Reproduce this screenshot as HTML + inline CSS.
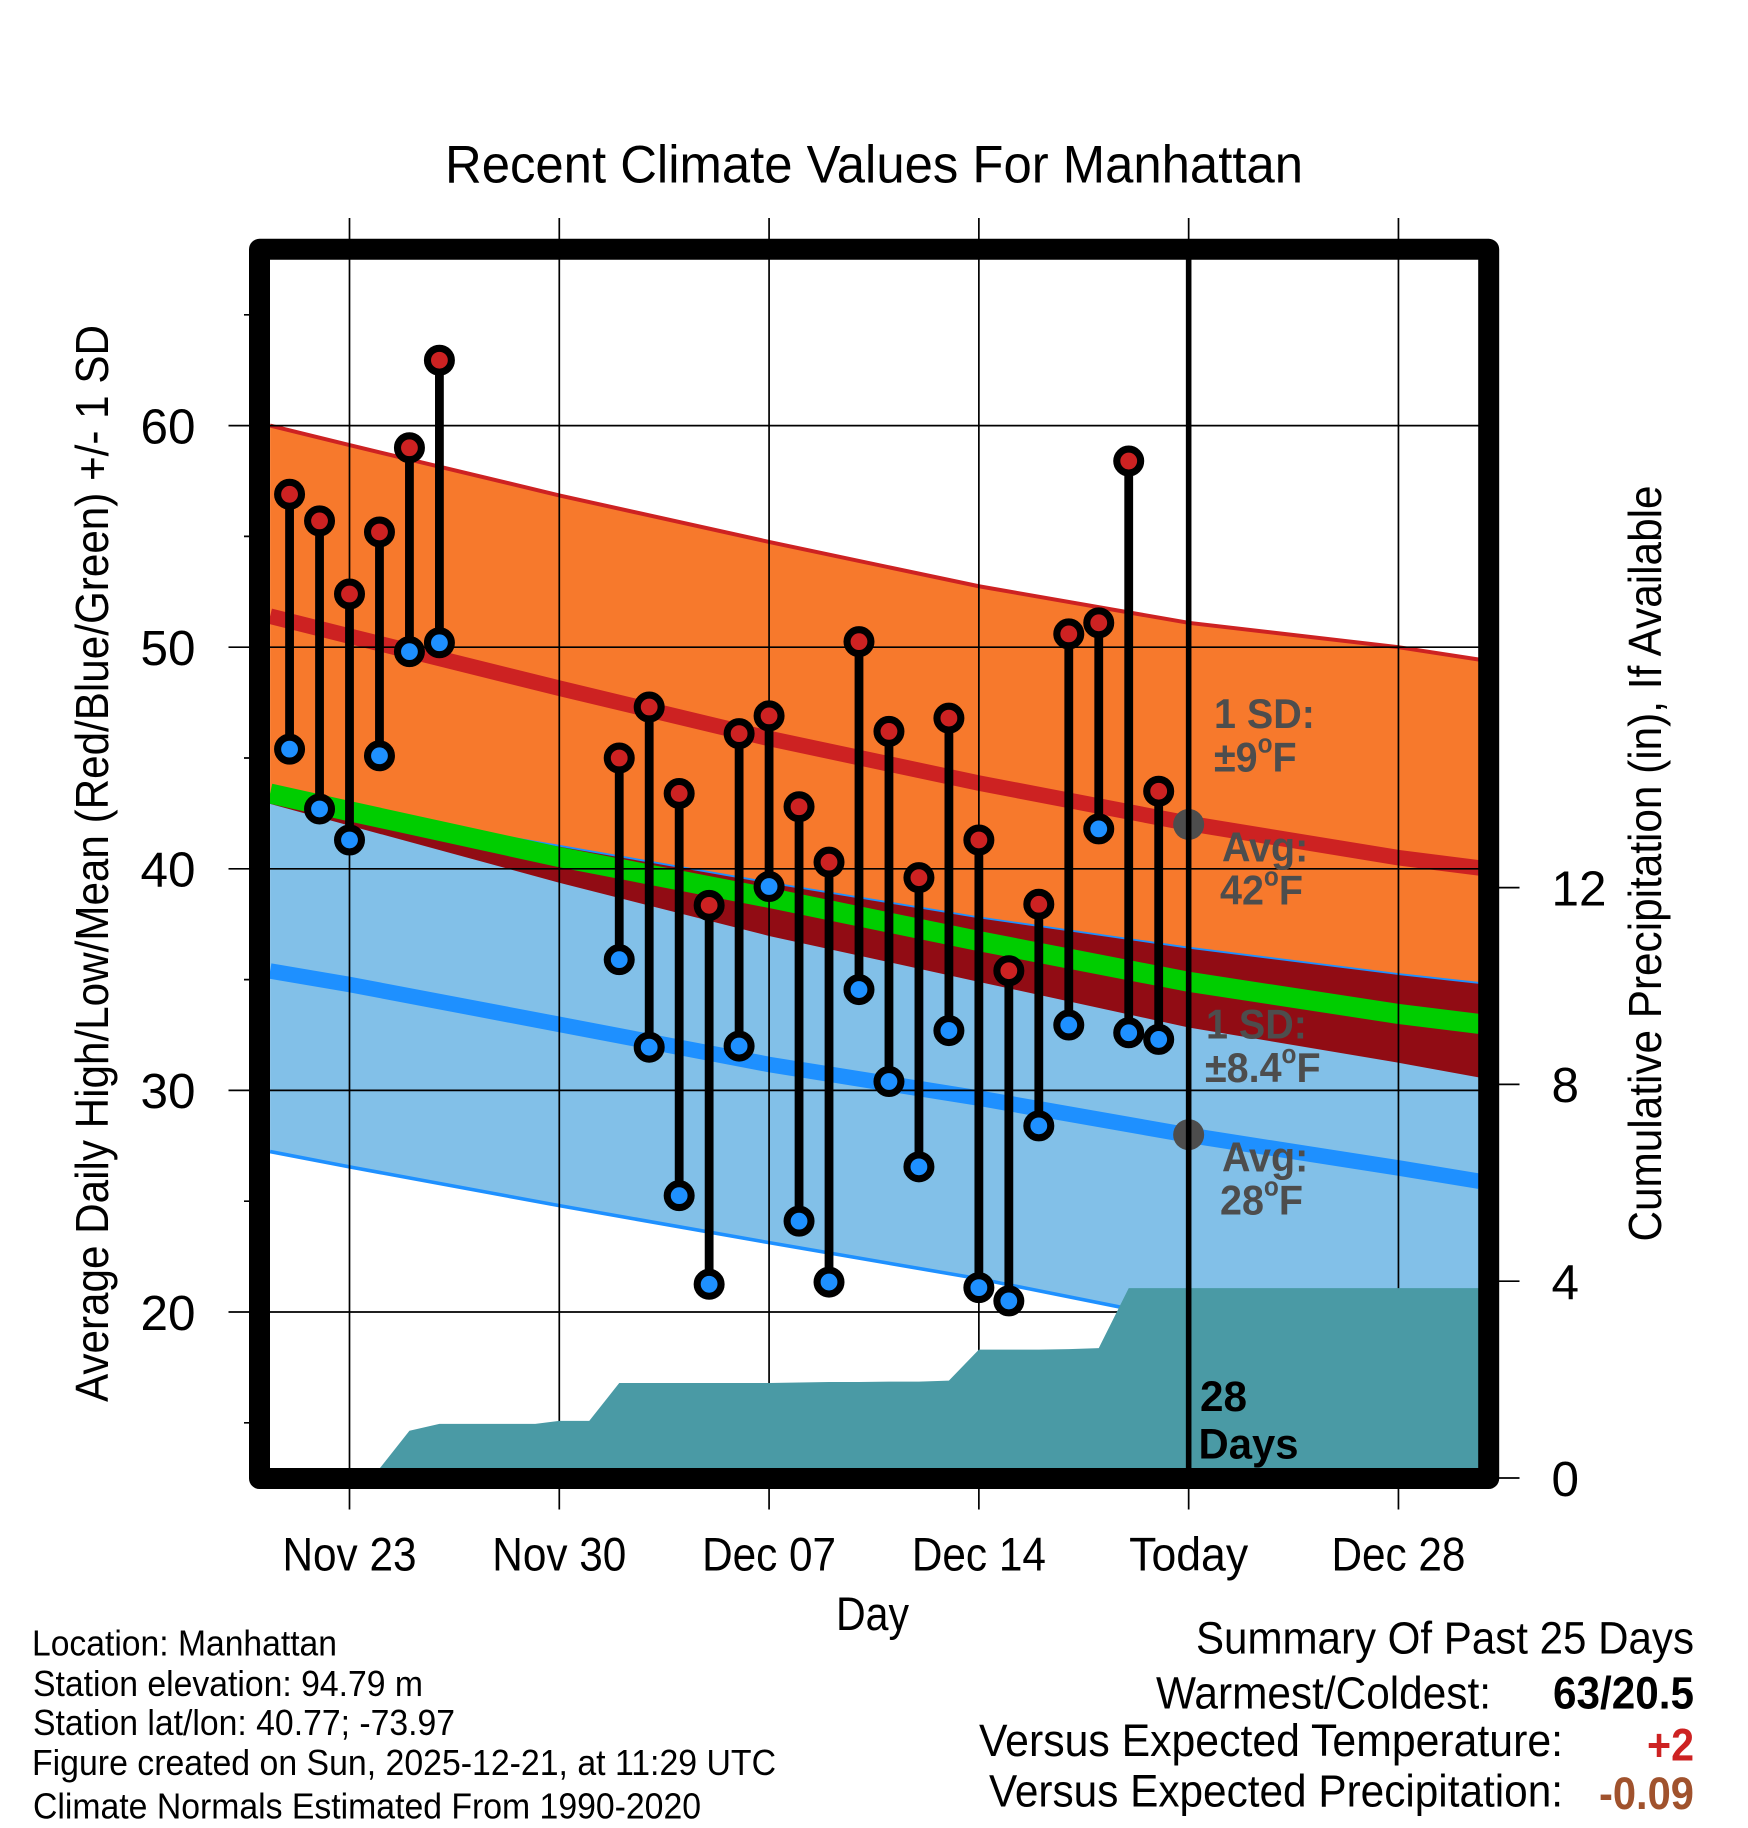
<!DOCTYPE html>
<html lang="en">
<head>
<meta charset="utf-8">
<title>Recent Climate Values For Manhattan</title>
<style>
html,body{margin:0;padding:0;background:#fff;}
svg{display:block;font-family:"Liberation Sans",Arial,sans-serif;}
.ann{font-weight:bold;font-size:42px;fill:#4d4d4d;}
.info{font-size:36px;fill:#000;}
.sum{font-size:45.5px;fill:#000;}
</style>
</head>
<body>
<svg id="chart" xmlns="http://www.w3.org/2000/svg" width="1748" height="1828" viewBox="0 0 1748 1828">
<rect x="0" y="0" width="1748" height="1828" fill="#ffffff"/>
<g id="plot"></g>
<rect x="259.5" y="249.3" width="1229.2" height="1229.2" fill="none" stroke="#000" stroke-width="21" stroke-linejoin="round"/>
<g id="axes"></g>

<text x="445" y="182.3" font-size="53" textLength="858" lengthAdjust="spacingAndGlyphs">Recent Climate Values For Manhattan</text>
<text transform="translate(107.8,1402) rotate(-90)" font-size="46" textLength="1077" lengthAdjust="spacingAndGlyphs">Average Daily High/Low/Mean (Red/Blue/Green) +/- 1 SD</text>
<text transform="translate(1661,1241.5) rotate(-90)" font-size="46" textLength="756" lengthAdjust="spacingAndGlyphs">Cumulative Precipitation (in), If Available</text>
<text x="836" y="1630" font-size="47" textLength="73" lengthAdjust="spacingAndGlyphs">Day</text>

<g>
<text class="ann" transform="translate(1214,728.2) scale(0.94,1)">1 SD:</text>
<text class="ann" transform="translate(1214,771.7) scale(0.94,1)">±9<tspan font-size="26" dy="-19">o</tspan><tspan dy="19">F</tspan></text>
<text class="ann" transform="translate(1222,861.7) scale(0.94,1)">Avg:</text>
<text class="ann" transform="translate(1220,904.7) scale(0.94,1)">42<tspan font-size="26" dy="-19">o</tspan><tspan dy="19">F</tspan></text>
</g>
<g>
<text class="ann" transform="translate(1206,1038.7) scale(0.94,1)">1 SD:</text>
<text class="ann" transform="translate(1205,1082.2) scale(0.94,1)">±8.4<tspan font-size="26" dy="-19">o</tspan><tspan dy="19">F</tspan></text>
<text class="ann" transform="translate(1222,1171.7) scale(0.94,1)">Avg:</text>
<text class="ann" transform="translate(1220,1214.7) scale(0.94,1)">28<tspan font-size="26" dy="-19">o</tspan><tspan dy="19">F</tspan></text>
</g>
<text font-weight="bold" font-size="43" x="1200" y="1411.2" textLength="47" lengthAdjust="spacingAndGlyphs">28</text>
<text font-weight="bold" font-size="43" x="1198.5" y="1458.7" textLength="100" lengthAdjust="spacingAndGlyphs">Days</text>

<g>
<text class="info" x="32" y="1655.3" textLength="305" lengthAdjust="spacingAndGlyphs">Location: Manhattan</text>
<text class="info" x="33" y="1695.8" textLength="390" lengthAdjust="spacingAndGlyphs">Station elevation: 94.79 m</text>
<text class="info" x="33" y="1734.8" textLength="422" lengthAdjust="spacingAndGlyphs">Station lat/lon: 40.77; -73.97</text>
<text class="info" x="32" y="1774.8" textLength="744" lengthAdjust="spacingAndGlyphs">Figure created on Sun, 2025-12-21, at 11:29 UTC</text>
<text class="info" x="33" y="1818.3" textLength="668" lengthAdjust="spacingAndGlyphs">Climate Normals Estimated From 1990-2020</text>
</g>

<g>
<text class="sum" x="1196" y="1653.3" textLength="498" lengthAdjust="spacingAndGlyphs">Summary Of Past 25 Days</text>
<text class="sum" x="1156" y="1708.7" textLength="335" lengthAdjust="spacingAndGlyphs">Warmest/Coldest:</text>
<text class="sum" font-weight="bold" x="1553" y="1708.7" textLength="141" lengthAdjust="spacingAndGlyphs">63/20.5</text>
<text class="sum" x="979" y="1756.2" textLength="584" lengthAdjust="spacingAndGlyphs">Versus Expected Temperature:</text>
<text class="sum" font-weight="bold" x="1647" y="1760.7" textLength="47" lengthAdjust="spacingAndGlyphs" style="fill:#cd2222">+2</text>
<text class="sum" x="989" y="1806.7" textLength="574" lengthAdjust="spacingAndGlyphs">Versus Expected Precipitation:</text>
<text class="sum" font-weight="bold" x="1599" y="1809.2" textLength="95" lengthAdjust="spacingAndGlyphs" style="fill:#a0522d">-0.09</text>
</g>
</svg>

<script>
// ---- Data (day numbers are days since Nov 23) ----
const xTickDays = [0, 7, 14, 21, 28, 35];
const xTickLabels = ['Nov 23', 'Nov 30', 'Dec 07', 'Dec 14', 'Today', 'Dec 28'];
const yMajorTicks = [20, 30, 40, 50, 60];
const yMinorTicks = [15, 25, 35, 45, 55, 65];
const precipTicks = [0, 4, 8, 12];
const todayDay = 28;
const todayMarkers = [42, 28];

const normalDays = [-2.65, 0, 7, 14, 21, 28, 35, 37.7];
const highPlusSd = [60, 59.12, 56.85, 54.75, 52.75, 51.1, 50.0, 49.44];
const highAvg = [51.4, 50.5, 48.15, 45.88, 43.87, 42.05, 40.5, 40.04];
const highMinusSd = [42.93, 41.95, 39.37, 36.97, 34.9, 32.84, 31.25, 30.58];
const meanAvg = [43.4, 42.6, 40.53, 38.69, 36.74, 34.9, 33.45, 33.0];
const lowPlusSd = [43.2, 42.65, 41.04, 39.38, 37.81, 36.44, 35.25, 34.85];
const lowAvg = [35.39, 34.78, 32.98, 31.17, 29.65, 27.98, 26.5, 25.9];
const lowMinusSd = [27.24, 26.55, 24.8, 23.13, 21.5, 19.6, 18.1, 17.5];

const precipDays = [-2.65, 0, 1, 2, 3, 4, 5, 6, 6.2, 7, 8, 9, 10, 11, 12, 13, 14, 15, 16, 17, 18, 19, 20, 21, 22, 23, 24, 25, 26, 37.7];
const precipTotals = [0, 0, 0.19, 0.96, 1.1, 1.1, 1.1, 1.1, 1.1, 1.16, 1.16, 1.93, 1.93, 1.93, 1.93, 1.93, 1.93, 1.94, 1.95, 1.95, 1.96, 1.96, 1.98, 2.61, 2.61, 2.61, 2.62, 2.64, 3.86, 3.86];

const obsDays = [-2, -1, 0, 1, 2, 3, 9, 10, 11, 12, 13, 14, 15, 16, 17, 18, 19, 20, 21, 22, 23, 24, 25, 26, 27];
const obsHigh = [56.9, 55.7, 52.4, 55.2, 59.0, 62.95, 45.0, 47.3, 43.4, 38.35, 46.1, 46.9, 42.8, 40.3, 50.25, 46.2, 39.6, 46.8, 41.3, 35.4, 38.4, 50.6, 51.1, 58.4, 43.5];
const obsLow = [45.4, 42.7, 41.3, 45.1, 49.8, 50.2, 35.9, 31.95, 25.25, 21.25, 32.0, 39.2, 24.1, 21.35, 34.55, 30.4, 26.55, 32.7, 21.1, 20.5, 28.4, 32.95, 41.8, 32.6, 32.3];

// ---- Axis functions ----
function xScale(day) { return 349.5 + day * 29.97; }
function yTemp(t) { return 425.6 + (60 - t) * 22.16; }
function yPrecip(p) { return 1478 - p * 49.2; }

const SVGNS = 'http://www.w3.org/2000/svg';
const plot = document.getElementById('plot');
const axes = document.getElementById('axes');
function mk(tag, parent, attrs) {
  const el = document.createElementNS(SVGNS, tag);
  for (const k in attrs) el.setAttribute(k, attrs[k]);
  parent.appendChild(el);
  return el;
}
function linePts(days, vals, yf) {
  return days.map(function (d, i) { return xScale(d).toFixed(2) + ',' + yf(vals[i]).toFixed(2); }).join(' ');
}
function bandPts(days, top, bottom) {
  const a = days.map(function (d, i) { return xScale(d).toFixed(2) + ',' + yTemp(top[i]).toFixed(2); });
  const b = days.map(function (d, i) { return xScale(d).toFixed(2) + ',' + yTemp(bottom[i]).toFixed(2); }).reverse();
  return a.concat(b).join(' ');
}

// ---- Clip paths ----
const defs = mk('defs', plot, {});
const innerClip = mk('clipPath', defs, { id: 'inner-clip' });
mk('rect', innerClip, { x: 262, y: 252, width: 1225, height: 1224 });
const orangeClip = mk('clipPath', defs, { id: 'orange-clip' });
mk('polygon', orangeClip, { points: bandPts(normalDays, highPlusSd, highMinusSd) });

const inner = mk('g', plot, { 'clip-path': 'url(#inner-clip)' });



// ---- Bands ----
const orangeBand = mk('polygon', inner, { points: bandPts(normalDays, highPlusSd, highMinusSd), fill: '#f7792c' });



const blueBand = mk('polygon', inner, { points: bandPts(normalDays, lowPlusSd, lowMinusSd), fill: '#82c0e8' });



const overlapBand = mk('polygon', inner, { points: bandPts(normalDays, lowPlusSd, lowMinusSd), fill: '#910c14', 'clip-path': 'url(#orange-clip)' });



// ---- Lines ----
const highTopLine = mk('polyline', inner, { points: linePts(normalDays, highPlusSd, yTemp), fill: 'none', stroke: '#cd2222', 'stroke-width': 4 });



const lowTopLine = mk('polyline', inner, { points: linePts(normalDays, lowPlusSd, yTemp), fill: 'none', stroke: '#1e90ff', 'stroke-width': 1.8 });



const lowBottomLine = mk('polyline', inner, { points: linePts(normalDays, lowMinusSd, yTemp), fill: 'none', stroke: '#1e90ff', 'stroke-width': 3.6 });



const highAvgLine = mk('polyline', inner, { points: linePts(normalDays, highAvg, yTemp), fill: 'none', stroke: '#cd2222', 'stroke-width': 15.5 });



const lowAvgLine = mk('polyline', inner, { points: linePts(normalDays, lowAvg, yTemp), fill: 'none', stroke: '#1e90ff', 'stroke-width': 15.5 });



const meanLine = mk('polyline', inner, { points: linePts(normalDays, meanAvg, yTemp), fill: 'none', stroke: '#00cd00', 'stroke-width': 20 });



// ---- Grid and ticks ----
yMajorTicks.forEach(function (t) {
  const g = mk('line', plot, { x1: 228.5, x2: 1479, y1: yTemp(t), y2: yTemp(t), stroke: '#000', 'stroke-width': 1.7 });
  
  
  const lbl = mk('text', axes, { x: 140.5, y: yTemp(t) + 17.8, 'font-size': 49, textLength: 55, lengthAdjust: 'spacingAndGlyphs' });
  lbl.textContent = String(t);
  
  
});
yMinorTicks.forEach(function (t) {
  const g = mk('line', plot, { x1: 244, x2: 262, y1: yTemp(t), y2: yTemp(t), stroke: '#000', 'stroke-width': 1.7 });
  
  
});
xTickDays.forEach(function (d, i) {
  const g = mk('line', plot, { x1: xScale(d), x2: xScale(d), y1: 218, y2: 1509.5, stroke: '#000', 'stroke-width': 1.7 });
  
  
  const isToday = xTickLabels[i] === 'Today';
  const lbl = mk('text', axes, { x: xScale(d), y: 1570.7, 'font-size': 47, 'text-anchor': 'middle', textLength: isToday ? 119 : 134, lengthAdjust: 'spacingAndGlyphs' });
  lbl.textContent = xTickLabels[i];
  
  
});
precipTicks.forEach(function (p) {
  const g = mk('line', axes, { x1: 1498, x2: 1519.5, y1: yPrecip(p), y2: yPrecip(p), stroke: '#000', 'stroke-width': 1.7 });
  
  
  const s = String(p);
  const lbl = mk('text', axes, { x: 1551.5, y: yPrecip(p) + 17.8, 'font-size': 49, textLength: s.length * 27.5, lengthAdjust: 'spacingAndGlyphs' });
  lbl.textContent = s;
  
  
});

// ---- Precipitation area ----
const precipPts = linePts(precipDays, precipTotals, yPrecip) + ' ' + xScale(precipDays[precipDays.length - 1]) + ',' + yPrecip(0) + ' ' + xScale(precipDays[0]) + ',' + yPrecip(0);
const precipArea = mk('polygon', plot, { points: precipPts, fill: '#4a9aa5', 'clip-path': 'url(#inner-clip)' });



// ---- Today markers and line ----
todayMarkers.forEach(function (t) {
  const c = mk('circle', plot, { cx: xScale(todayDay), cy: yTemp(t), r: 15.5, fill: '#4d4d4d' });
  
  
});
const todayLine = mk('line', plot, { x1: xScale(todayDay), x2: xScale(todayDay), y1: 258, y2: 1470, stroke: '#000', 'stroke-width': 5.6 });



// ---- Observations ----
obsDays.forEach(function (d, i) {
  const x = xScale(d);
  const stem = mk('line', plot, { x1: x, x2: x, y1: yTemp(obsHigh[i]), y2: yTemp(obsLow[i]), stroke: '#000', 'stroke-width': 8.8 });
  
  
});
obsDays.forEach(function (d, i) {
  const x = xScale(d);
  const hi = mk('circle', plot, { cx: x, cy: yTemp(obsHigh[i]), r: 11.95, fill: '#cd2222', stroke: '#000', 'stroke-width': 7.1 });
  
  
  const lo = mk('circle', plot, { cx: x, cy: yTemp(obsLow[i]), r: 11.95, fill: '#1e90ff', stroke: '#000', 'stroke-width': 7.1 });
  
  
});
</script>
</body>
</html>
